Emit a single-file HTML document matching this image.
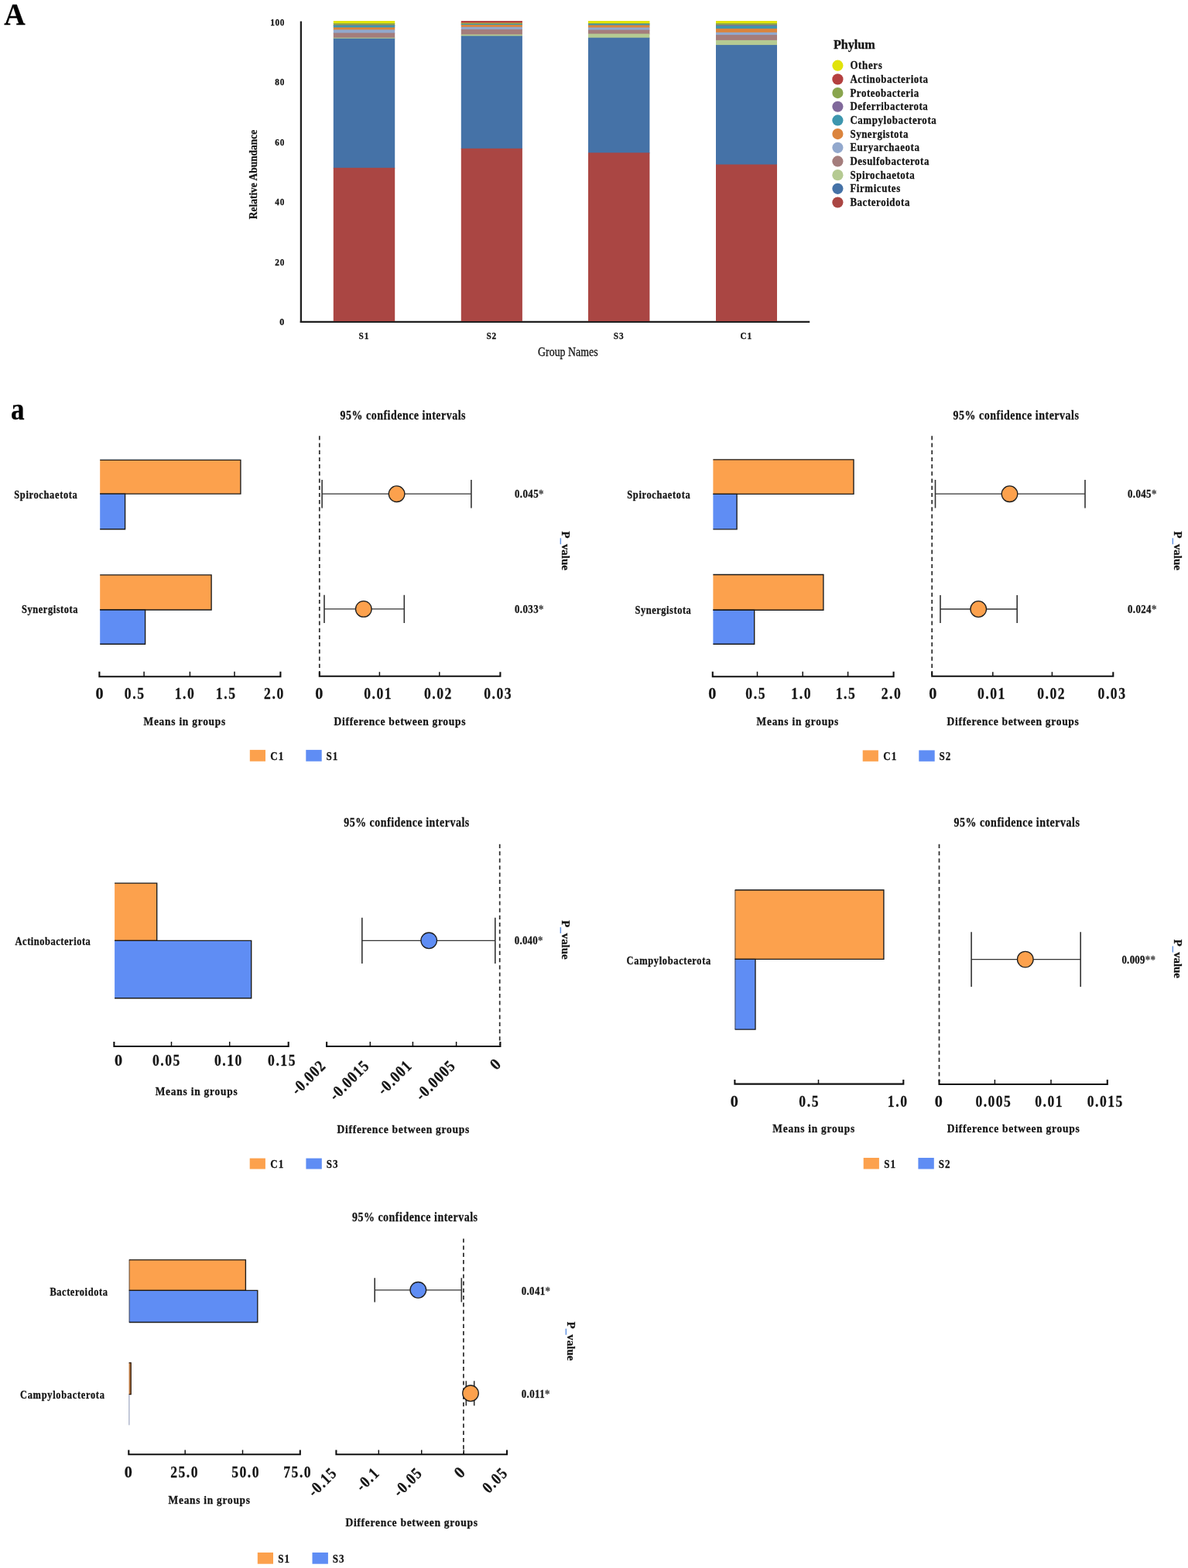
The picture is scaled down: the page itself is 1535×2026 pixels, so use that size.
<!DOCTYPE html>
<html><head><meta charset="utf-8"><title>Figure</title>
<style>
html,body{margin:0;padding:0;background:#fff;}
body{width:1535px;height:2026px;overflow:hidden;}
svg{display:block;font-family:"Liberation Serif","Times New Roman",serif;}
text{stroke:#141414;stroke-width:0.28px;}
</style></head>
<body>
<svg width="1535" height="2026" viewBox="0 0 1535 2026">
<rect width="1535" height="2026" fill="#fff"/>
<text transform="translate(5.20,31.70) scale(0.9731,1)" x="-0.00" y="0" font-size="39.00" font-weight="bold" fill="#000">A</text>
<line x1="388.90" y1="27.40" x2="388.90" y2="417.00" stroke="#1e1e1e" stroke-width="2.3"/>
<line x1="387.80" y1="415.90" x2="1046.20" y2="415.90" stroke="#1e1e1e" stroke-width="2.3"/>
<text transform="translate(361.25,420.00) scale(0.9300,1)" x="-0.00" y="0" font-size="13.00" font-weight="bold" fill="#141414">0</text>
<text transform="translate(355.21,342.54) scale(0.8700,1)" x="-0.00" y="0" font-size="13.00" font-weight="bold" fill="#141414" letter-spacing="0.897">20</text>
<text transform="translate(355.21,265.08) scale(0.8700,1)" x="-0.00" y="0" font-size="13.00" font-weight="bold" fill="#141414" letter-spacing="0.897">40</text>
<text transform="translate(355.21,187.62) scale(0.8700,1)" x="-0.00" y="0" font-size="13.00" font-weight="bold" fill="#141414" letter-spacing="0.897">60</text>
<text transform="translate(355.21,110.16) scale(0.8700,1)" x="-0.00" y="0" font-size="13.00" font-weight="bold" fill="#141414" letter-spacing="0.897">80</text>
<text transform="translate(349.17,32.70) scale(0.8700,1)" x="-0.00" y="0" font-size="13.00" font-weight="bold" fill="#141414" letter-spacing="0.672">100</text>
<text transform="translate(331.9,225.50) rotate(-90)" x="-57.75" y="0" font-size="15" font-weight="bold" fill="#141414" textLength="115.50" lengthAdjust="spacingAndGlyphs">Relative Abundance</text>
<rect x="430.80" y="27.00" width="79.40" height="4.00" fill="#E1E30A"/>
<rect x="430.80" y="30.10" width="79.40" height="3.20" fill="#89A54E"/>
<rect x="430.80" y="32.40" width="79.40" height="1.50" fill="#80699B"/>
<rect x="430.80" y="33.00" width="79.40" height="3.30" fill="#3D96AE"/>
<rect x="430.80" y="35.40" width="79.40" height="3.80" fill="#DB843D"/>
<rect x="430.80" y="38.30" width="79.40" height="5.10" fill="#92A8CD"/>
<rect x="430.80" y="42.50" width="79.40" height="7.00" fill="#A47D7C"/>
<rect x="430.80" y="48.60" width="79.40" height="2.00" fill="#B5CA92"/>
<rect x="430.80" y="49.70" width="79.40" height="168.00" fill="#4572A7"/>
<rect x="430.80" y="216.80" width="79.40" height="198.20" fill="#AA4643"/>
<rect x="595.80" y="27.00" width="79.10" height="3.10" fill="#B4403F"/>
<rect x="595.80" y="29.20" width="79.10" height="1.50" fill="#DB843D"/>
<rect x="595.80" y="29.80" width="79.10" height="2.10" fill="#89A54E"/>
<rect x="595.80" y="31.00" width="79.10" height="1.90" fill="#3D96AE"/>
<rect x="595.80" y="32.00" width="79.10" height="3.70" fill="#DB843D"/>
<rect x="595.80" y="34.80" width="79.10" height="4.00" fill="#92A8CD"/>
<rect x="595.80" y="37.90" width="79.10" height="7.50" fill="#A47D7C"/>
<rect x="595.80" y="44.50" width="79.10" height="2.80" fill="#B5CA92"/>
<rect x="595.80" y="46.40" width="79.10" height="146.30" fill="#4572A7"/>
<rect x="595.80" y="191.80" width="79.10" height="223.20" fill="#AA4643"/>
<rect x="760.00" y="27.00" width="79.40" height="3.90" fill="#E1E30A"/>
<rect x="760.00" y="30.00" width="79.40" height="1.70" fill="#89A54E"/>
<rect x="760.00" y="30.80" width="79.40" height="2.50" fill="#3D96AE"/>
<rect x="760.00" y="32.40" width="79.40" height="4.00" fill="#DB843D"/>
<rect x="760.00" y="35.50" width="79.40" height="4.00" fill="#92A8CD"/>
<rect x="760.00" y="38.60" width="79.40" height="5.90" fill="#A47D7C"/>
<rect x="760.00" y="43.60" width="79.40" height="6.00" fill="#B5CA92"/>
<rect x="760.00" y="48.70" width="79.40" height="149.50" fill="#4572A7"/>
<rect x="760.00" y="197.30" width="79.40" height="217.70" fill="#AA4643"/>
<rect x="925.00" y="27.00" width="79.00" height="4.00" fill="#E1E30A"/>
<rect x="925.00" y="30.10" width="79.00" height="3.10" fill="#89A54E"/>
<rect x="925.00" y="32.30" width="79.00" height="2.00" fill="#80699B"/>
<rect x="925.00" y="33.40" width="79.00" height="4.40" fill="#3D96AE"/>
<rect x="925.00" y="36.90" width="79.00" height="5.80" fill="#DB843D"/>
<rect x="925.00" y="41.80" width="79.00" height="4.20" fill="#92A8CD"/>
<rect x="925.00" y="45.10" width="79.00" height="7.70" fill="#A47D7C"/>
<rect x="925.00" y="51.90" width="79.00" height="7.10" fill="#B5CA92"/>
<rect x="925.00" y="58.10" width="79.00" height="155.30" fill="#4572A7"/>
<rect x="925.00" y="212.50" width="79.00" height="202.50" fill="#AA4643"/>
<text transform="translate(463.62,438.20) scale(0.8700,1)" x="-0.00" y="0" font-size="13.00" font-weight="bold" fill="#141414" letter-spacing="0.947">S1</text>
<text transform="translate(628.42,438.20) scale(0.8700,1)" x="-0.00" y="0" font-size="13.00" font-weight="bold" fill="#141414" letter-spacing="0.947">S2</text>
<text transform="translate(792.82,438.20) scale(0.8700,1)" x="-0.00" y="0" font-size="13.00" font-weight="bold" fill="#141414" letter-spacing="0.947">S3</text>
<text transform="translate(956.41,438.20) scale(0.8700,1)" x="-0.00" y="0" font-size="13.00" font-weight="bold" fill="#141414" letter-spacing="1.096">C1</text>
<text transform="translate(695.10,459.90) scale(0.8677,1)" x="-0.00" y="0" font-size="16.00" font-weight="normal" fill="#141414">Group Names</text>
<text transform="translate(1076.90,63.20) scale(1.0123,1)" x="-0.00" y="0" font-size="16.00" font-weight="bold" fill="#141414">Phylum</text>
<circle cx="1082.40" cy="84.70" r="7.10" fill="#E1E30A"/>
<text transform="translate(1098.40,89.30) scale(0.8700,1)" x="-0.00" y="0" font-size="14.80" font-weight="bold" fill="#141414" letter-spacing="0.801">Others</text>
<circle cx="1082.40" cy="102.38" r="7.10" fill="#B4403F"/>
<text transform="translate(1098.40,106.98) scale(0.8700,1)" x="-0.00" y="0" font-size="14.80" font-weight="bold" fill="#141414" letter-spacing="0.650">Actinobacteriota</text>
<circle cx="1082.40" cy="120.06" r="7.10" fill="#89A54E"/>
<text transform="translate(1098.40,124.66) scale(0.8700,1)" x="-0.00" y="0" font-size="14.80" font-weight="bold" fill="#141414" letter-spacing="0.661">Proteobacteria</text>
<circle cx="1082.40" cy="137.74" r="7.10" fill="#80699B"/>
<text transform="translate(1098.40,142.34) scale(0.8700,1)" x="-0.00" y="0" font-size="14.80" font-weight="bold" fill="#141414" letter-spacing="0.648">Deferribacterota</text>
<circle cx="1082.40" cy="155.42" r="7.10" fill="#3D96AE"/>
<text transform="translate(1098.40,160.02) scale(0.8700,1)" x="-0.00" y="0" font-size="14.80" font-weight="bold" fill="#141414" letter-spacing="0.719">Campylobacterota</text>
<circle cx="1082.40" cy="173.10" r="7.10" fill="#DB843D"/>
<text transform="translate(1098.40,177.70) scale(0.8700,1)" x="-0.00" y="0" font-size="14.80" font-weight="bold" fill="#141414" letter-spacing="0.660">Synergistota</text>
<circle cx="1082.40" cy="190.78" r="7.10" fill="#92A8CD"/>
<text transform="translate(1098.40,195.38) scale(0.8700,1)" x="-0.00" y="0" font-size="14.80" font-weight="bold" fill="#141414" letter-spacing="0.722">Euryarchaeota</text>
<circle cx="1082.40" cy="208.46" r="7.10" fill="#A47D7C"/>
<text transform="translate(1098.40,213.06) scale(0.8700,1)" x="-0.00" y="0" font-size="14.80" font-weight="bold" fill="#141414" letter-spacing="0.659">Desulfobacterota</text>
<circle cx="1082.40" cy="226.14" r="7.10" fill="#B5CA92"/>
<text transform="translate(1098.40,230.74) scale(0.8700,1)" x="-0.00" y="0" font-size="14.80" font-weight="bold" fill="#141414" letter-spacing="0.672">Spirochaetota</text>
<circle cx="1082.40" cy="243.82" r="7.10" fill="#4572A7"/>
<text transform="translate(1098.40,248.42) scale(0.8700,1)" x="-0.00" y="0" font-size="14.80" font-weight="bold" fill="#141414" letter-spacing="0.697">Firmicutes</text>
<circle cx="1082.40" cy="261.50" r="7.10" fill="#AA4643"/>
<text transform="translate(1098.40,266.10) scale(0.8700,1)" x="-0.00" y="0" font-size="14.80" font-weight="bold" fill="#141414" letter-spacing="0.678">Bacteroidota</text>
<text transform="translate(14.10,542.20) scale(0.9026,1)" x="-0.00" y="0" font-size="39.00" font-weight="bold" fill="#000">a</text>
<text transform="translate(18.30,643.70) scale(0.8700,1)" x="-0.00" y="0" font-size="14.30" font-weight="bold" fill="#141414" letter-spacing="0.754">Spirochaetota</text>
<text transform="translate(28.10,792.20) scale(0.8700,1)" x="-0.00" y="0" font-size="14.30" font-weight="bold" fill="#141414" letter-spacing="0.632">Synergistota</text>
<rect x="129.20" y="594.30" width="181.70" height="43.80" fill="#FCA14D"/>
<path d="M129.20,594.30 H310.90 V638.10 H129.20" fill="none" stroke="#1a1a1a" stroke-width="1.35"/>
<rect x="129.20" y="638.10" width="32.40" height="45.60" fill="#5F8DF4"/>
<path d="M129.20,638.10 H161.60 V683.70 H129.20" fill="none" stroke="#1a1a1a" stroke-width="1.35"/>
<rect x="129.20" y="742.90" width="143.90" height="45.10" fill="#FCA14D"/>
<path d="M129.20,742.90 H273.10 V788.00 H129.20" fill="none" stroke="#1a1a1a" stroke-width="1.35"/>
<rect x="129.20" y="788.00" width="58.40" height="44.20" fill="#5F8DF4"/>
<path d="M129.20,788.00 H187.60 V832.20 H129.20" fill="none" stroke="#1a1a1a" stroke-width="1.35"/>
<path d="M128.40,867.80 V874.20 H362.40 V867.80" fill="none" stroke="#111" stroke-width="2.1"/>
<line x1="186.10" y1="867.80" x2="186.10" y2="874.20" stroke="#111" stroke-width="1.5"/>
<line x1="245.40" y1="867.80" x2="245.40" y2="874.20" stroke="#111" stroke-width="1.5"/>
<line x1="303.00" y1="867.80" x2="303.00" y2="874.20" stroke="#111" stroke-width="1.5"/>
<text transform="translate(123.44,903.10) scale(0.9630,1)" x="-0.00" y="0" font-size="21.00" font-weight="bold" fill="#141414">0</text>
<text transform="translate(160.86,903.10) scale(0.8400,1)" x="-0.00" y="0" font-size="21.00" font-weight="bold" fill="#141414" letter-spacing="1.922">0.5</text>
<text transform="translate(225.66,903.10) scale(0.8400,1)" x="-0.00" y="0" font-size="21.00" font-weight="bold" fill="#141414" letter-spacing="1.922">1.0</text>
<text transform="translate(278.86,903.10) scale(0.8400,1)" x="-0.00" y="0" font-size="21.00" font-weight="bold" fill="#141414" letter-spacing="1.922">1.5</text>
<text transform="translate(340.96,903.10) scale(0.8400,1)" x="-0.00" y="0" font-size="21.00" font-weight="bold" fill="#141414" letter-spacing="1.922">2.0</text>
<text transform="translate(185.50,936.60) scale(0.8700,1)" x="-0.00" y="0" font-size="15.40" font-weight="bold" fill="#141414" letter-spacing="0.883">Means in groups</text>
<text transform="translate(439.60,541.60) scale(0.8700,1)" x="-0.00" y="0" font-size="16.00" font-weight="bold" fill="#141414" letter-spacing="0.600">95% confidence intervals</text>
<line x1="412.80" y1="563.30" x2="412.80" y2="873.00" stroke="#2a2a2a" stroke-width="1.7" stroke-dasharray="5.2 4"/>
<line x1="416.10" y1="638.20" x2="608.90" y2="638.20" stroke="#333" stroke-width="1.3"/>
<line x1="416.10" y1="620.00" x2="416.10" y2="656.40" stroke="#333" stroke-width="1.6"/>
<line x1="608.90" y1="620.00" x2="608.90" y2="656.40" stroke="#333" stroke-width="1.6"/>
<circle cx="512.60" cy="638.20" r="10.30" fill="#FCA14D" stroke="#1e1e1e" stroke-width="1.3"/>
<line x1="419.00" y1="786.90" x2="522.30" y2="786.90" stroke="#333" stroke-width="1.3"/>
<line x1="419.00" y1="768.80" x2="419.00" y2="805.00" stroke="#333" stroke-width="1.6"/>
<line x1="522.30" y1="768.80" x2="522.30" y2="805.00" stroke="#333" stroke-width="1.6"/>
<circle cx="469.80" cy="786.90" r="10.30" fill="#FCA14D" stroke="#1e1e1e" stroke-width="1.3"/>
<path d="M412.80,868.20 V873.80 H646.40 V868.20" fill="none" stroke="#111" stroke-width="2.1"/>
<line x1="490.40" y1="868.20" x2="490.40" y2="873.80" stroke="#111" stroke-width="1.5"/>
<line x1="567.80" y1="868.20" x2="567.80" y2="873.80" stroke="#111" stroke-width="1.5"/>
<text transform="translate(407.24,902.70) scale(0.9630,1)" x="-0.00" y="0" font-size="21.00" font-weight="bold" fill="#141414">0</text>
<text transform="translate(470.30,902.70) scale(0.8400,1)" x="-0.00" y="0" font-size="21.00" font-weight="bold" fill="#141414" letter-spacing="1.794">0.01</text>
<text transform="translate(547.90,902.70) scale(0.8400,1)" x="-0.00" y="0" font-size="21.00" font-weight="bold" fill="#141414" letter-spacing="1.794">0.02</text>
<text transform="translate(625.30,902.70) scale(0.8400,1)" x="-0.00" y="0" font-size="21.00" font-weight="bold" fill="#141414" letter-spacing="1.794">0.03</text>
<text transform="translate(431.60,936.80) scale(0.8700,1)" x="-0.00" y="0" font-size="15.60" font-weight="bold" fill="#141414" letter-spacing="0.764">Difference between groups</text>
<text transform="translate(665.00,643.40) scale(0.8700,1)" x="-0.00" y="0" font-size="14.80" font-weight="bold" fill="#141414" letter-spacing="0.481">0.045<tspan fill="#4a4a4a" stroke="#4a4a4a">*</tspan></text>
<text transform="translate(665.00,791.90) scale(0.8700,1)" x="-0.00" y="0" font-size="14.80" font-weight="bold" fill="#141414" letter-spacing="0.481">0.033<tspan fill="#4a4a4a" stroke="#4a4a4a">*</tspan></text>
<text transform="translate(731.00,711.60) rotate(90)" x="-25.16" y="4.95" font-size="15" font-weight="bold" fill="#141414" textLength="50.32" lengthAdjust="spacingAndGlyphs">P<tspan fill="#5b8fe0" stroke="#5b8fe0">_</tspan>value</text>
<rect x="322.80" y="968.90" width="20.20" height="14.80" fill="#FCA14D"/>
<text transform="translate(349.30,982.00) scale(0.8700,1)" x="-0.00" y="0" font-size="15.00" font-weight="bold" fill="#141414" letter-spacing="1.264">C1</text>
<rect x="395.30" y="968.90" width="20.40" height="14.80" fill="#5F8DF4"/>
<text transform="translate(421.60,982.00) scale(0.8700,1)" x="-0.00" y="0" font-size="15.00" font-weight="bold" fill="#141414" letter-spacing="1.092">S1</text>
<text transform="translate(810.30,643.90) scale(0.8700,1)" x="-0.00" y="0" font-size="14.30" font-weight="bold" fill="#141414" letter-spacing="0.735">Spirochaetota</text>
<text transform="translate(820.50,792.80) scale(0.8700,1)" x="-0.00" y="0" font-size="14.30" font-weight="bold" fill="#141414" letter-spacing="0.632">Synergistota</text>
<rect x="921.40" y="593.80" width="181.60" height="44.50" fill="#FCA14D"/>
<path d="M921.40,593.80 H1103.00 V638.30 H921.40" fill="none" stroke="#1a1a1a" stroke-width="1.35"/>
<rect x="921.40" y="638.30" width="30.70" height="45.50" fill="#5F8DF4"/>
<path d="M921.40,638.30 H952.10 V683.80 H921.40" fill="none" stroke="#1a1a1a" stroke-width="1.35"/>
<rect x="921.40" y="742.50" width="142.50" height="45.70" fill="#FCA14D"/>
<path d="M921.40,742.50 H1063.90 V788.20 H921.40" fill="none" stroke="#1a1a1a" stroke-width="1.35"/>
<rect x="921.40" y="788.20" width="53.30" height="44.00" fill="#5F8DF4"/>
<path d="M921.40,788.20 H974.70 V832.20 H921.40" fill="none" stroke="#1a1a1a" stroke-width="1.35"/>
<path d="M920.80,867.80 V874.20 H1154.60 V867.80" fill="none" stroke="#111" stroke-width="2.1"/>
<line x1="978.50" y1="867.80" x2="978.50" y2="874.20" stroke="#111" stroke-width="1.5"/>
<line x1="1037.20" y1="867.80" x2="1037.20" y2="874.20" stroke="#111" stroke-width="1.5"/>
<line x1="1095.60" y1="867.80" x2="1095.60" y2="874.20" stroke="#111" stroke-width="1.5"/>
<text transform="translate(915.24,903.30) scale(0.9630,1)" x="-0.00" y="0" font-size="21.00" font-weight="bold" fill="#141414">0</text>
<text transform="translate(963.36,903.30) scale(0.8400,1)" x="-0.00" y="0" font-size="21.00" font-weight="bold" fill="#141414" letter-spacing="1.922">0.5</text>
<text transform="translate(1022.26,903.30) scale(0.8400,1)" x="-0.00" y="0" font-size="21.00" font-weight="bold" fill="#141414" letter-spacing="1.922">1.0</text>
<text transform="translate(1079.66,903.30) scale(0.8400,1)" x="-0.00" y="0" font-size="21.00" font-weight="bold" fill="#141414" letter-spacing="1.922">1.5</text>
<text transform="translate(1138.66,903.30) scale(0.8400,1)" x="-0.00" y="0" font-size="21.00" font-weight="bold" fill="#141414" letter-spacing="1.922">2.0</text>
<text transform="translate(977.50,936.80) scale(0.8700,1)" x="-0.00" y="0" font-size="15.40" font-weight="bold" fill="#141414" letter-spacing="0.891">Means in groups</text>
<text transform="translate(1231.50,541.60) scale(0.8700,1)" x="-0.00" y="0" font-size="16.00" font-weight="bold" fill="#141414" letter-spacing="0.625">95% confidence intervals</text>
<line x1="1204.20" y1="563.30" x2="1204.20" y2="873.00" stroke="#2a2a2a" stroke-width="1.7" stroke-dasharray="5.2 4"/>
<line x1="1208.50" y1="638.20" x2="1402.00" y2="638.20" stroke="#333" stroke-width="1.3"/>
<line x1="1208.50" y1="620.00" x2="1208.50" y2="656.40" stroke="#333" stroke-width="1.6"/>
<line x1="1402.00" y1="620.00" x2="1402.00" y2="656.40" stroke="#333" stroke-width="1.6"/>
<circle cx="1304.50" cy="638.20" r="10.30" fill="#FCA14D" stroke="#1e1e1e" stroke-width="1.3"/>
<line x1="1215.00" y1="787.00" x2="1314.20" y2="787.00" stroke="#333" stroke-width="1.3"/>
<line x1="1215.00" y1="768.90" x2="1215.00" y2="805.10" stroke="#333" stroke-width="1.6"/>
<line x1="1314.20" y1="768.90" x2="1314.20" y2="805.10" stroke="#333" stroke-width="1.6"/>
<circle cx="1264.20" cy="787.00" r="10.30" fill="#FCA14D" stroke="#1e1e1e" stroke-width="1.3"/>
<path d="M1204.20,868.20 V873.80 H1438.30 V868.20" fill="none" stroke="#111" stroke-width="2.1"/>
<line x1="1282.80" y1="868.20" x2="1282.80" y2="873.80" stroke="#111" stroke-width="1.5"/>
<line x1="1359.40" y1="868.20" x2="1359.40" y2="873.80" stroke="#111" stroke-width="1.5"/>
<text transform="translate(1200.34,902.70) scale(0.9630,1)" x="-0.00" y="0" font-size="21.00" font-weight="bold" fill="#141414">0</text>
<text transform="translate(1262.90,902.70) scale(0.8400,1)" x="-0.00" y="0" font-size="21.00" font-weight="bold" fill="#141414" letter-spacing="1.794">0.01</text>
<text transform="translate(1340.30,902.70) scale(0.8400,1)" x="-0.00" y="0" font-size="21.00" font-weight="bold" fill="#141414" letter-spacing="1.794">0.02</text>
<text transform="translate(1418.60,902.70) scale(0.8400,1)" x="-0.00" y="0" font-size="21.00" font-weight="bold" fill="#141414" letter-spacing="1.794">0.03</text>
<text transform="translate(1223.50,936.80) scale(0.8700,1)" x="-0.00" y="0" font-size="15.60" font-weight="bold" fill="#141414" letter-spacing="0.788">Difference between groups</text>
<text transform="translate(1457.00,643.40) scale(0.8700,1)" x="-0.00" y="0" font-size="14.80" font-weight="bold" fill="#141414" letter-spacing="0.458">0.045<tspan fill="#4a4a4a" stroke="#4a4a4a">*</tspan></text>
<text transform="translate(1457.00,791.90) scale(0.8700,1)" x="-0.00" y="0" font-size="14.80" font-weight="bold" fill="#141414" letter-spacing="0.458">0.024<tspan fill="#4a4a4a" stroke="#4a4a4a">*</tspan></text>
<text transform="translate(1522.00,711.60) rotate(90)" x="-25.16" y="4.95" font-size="15" font-weight="bold" fill="#141414" textLength="50.32" lengthAdjust="spacingAndGlyphs">P<tspan fill="#5b8fe0" stroke="#5b8fe0">_</tspan>value</text>
<rect x="1114.70" y="969.40" width="20.20" height="14.40" fill="#FCA14D"/>
<text transform="translate(1141.20,982.20) scale(0.8700,1)" x="-0.00" y="0" font-size="15.00" font-weight="bold" fill="#141414" letter-spacing="1.264">C1</text>
<rect x="1187.30" y="969.40" width="20.40" height="14.40" fill="#5F8DF4"/>
<text transform="translate(1213.60,982.20) scale(0.8700,1)" x="-0.00" y="0" font-size="15.00" font-weight="bold" fill="#141414" letter-spacing="1.092">S2</text>
<text transform="translate(19.60,1220.90) scale(0.8700,1)" x="-0.00" y="0" font-size="14.30" font-weight="bold" fill="#141414" letter-spacing="0.625">Actinobacteriota</text>
<rect x="148.10" y="1141.10" width="54.60" height="74.20" fill="#FCA14D"/>
<path d="M148.10,1141.10 H202.70 V1215.30 H148.10" fill="none" stroke="#1a1a1a" stroke-width="1.35"/>
<rect x="148.10" y="1215.30" width="176.60" height="74.40" fill="#5F8DF4"/>
<path d="M148.10,1215.30 H324.70 V1289.70 H148.10" fill="none" stroke="#1a1a1a" stroke-width="1.35"/>
<path d="M147.40,1346.00 V1352.00 H372.70 V1346.00" fill="none" stroke="#111" stroke-width="2.1"/>
<line x1="221.50" y1="1346.00" x2="221.50" y2="1352.00" stroke="#111" stroke-width="1.5"/>
<line x1="296.70" y1="1346.00" x2="296.70" y2="1352.00" stroke="#111" stroke-width="1.5"/>
<text transform="translate(147.94,1377.40) scale(0.9630,1)" x="-0.00" y="0" font-size="21.00" font-weight="bold" fill="#141414">0</text>
<text transform="translate(197.00,1377.40) scale(0.8400,1)" x="-0.00" y="0" font-size="21.00" font-weight="bold" fill="#141414" letter-spacing="1.794">0.05</text>
<text transform="translate(277.00,1377.40) scale(0.8400,1)" x="-0.00" y="0" font-size="21.00" font-weight="bold" fill="#141414" letter-spacing="1.794">0.10</text>
<text transform="translate(346.10,1377.40) scale(0.8400,1)" x="-0.00" y="0" font-size="21.00" font-weight="bold" fill="#141414" letter-spacing="1.794">0.15</text>
<text transform="translate(200.70,1414.70) scale(0.8700,1)" x="-0.00" y="0" font-size="15.40" font-weight="bold" fill="#141414" letter-spacing="0.899">Means in groups</text>
<text transform="translate(444.20,1068.00) scale(0.8700,1)" x="-0.00" y="0" font-size="16.00" font-weight="bold" fill="#141414" letter-spacing="0.605">95% confidence intervals</text>
<line x1="645.70" y1="1090.80" x2="645.70" y2="1350.00" stroke="#2a2a2a" stroke-width="1.7" stroke-dasharray="5.2 4"/>
<line x1="467.80" y1="1215.30" x2="639.80" y2="1215.30" stroke="#333" stroke-width="1.3"/>
<line x1="467.80" y1="1185.70" x2="467.80" y2="1244.90" stroke="#333" stroke-width="1.6"/>
<line x1="639.80" y1="1185.70" x2="639.80" y2="1244.90" stroke="#333" stroke-width="1.6"/>
<circle cx="554.20" cy="1215.30" r="10.30" fill="#5F8DF4" stroke="#1e1e1e" stroke-width="1.3"/>
<path d="M422.10,1346.00 V1352.00 H646.40 V1346.00" fill="none" stroke="#111" stroke-width="2.1"/>
<line x1="478.30" y1="1346.00" x2="478.30" y2="1352.00" stroke="#111" stroke-width="1.5"/>
<line x1="533.40" y1="1346.00" x2="533.40" y2="1352.00" stroke="#111" stroke-width="1.5"/>
<line x1="589.60" y1="1346.00" x2="589.60" y2="1352.00" stroke="#111" stroke-width="1.5"/>
<text transform="translate(421.50,1378.90) rotate(-45) translate(-52.24,0) scale(0.8400,1)" x="-0.00" y="0" font-size="21.00" font-weight="bold" fill="#141414" letter-spacing="1.589">-0.002</text>
<text transform="translate(477.70,1378.90) rotate(-45) translate(-62.35,0) scale(0.8400,1)" x="-0.00" y="0" font-size="21.00" font-weight="bold" fill="#141414" letter-spacing="1.580">-0.0015</text>
<text transform="translate(532.80,1378.90) rotate(-45) translate(-52.24,0) scale(0.8400,1)" x="-0.00" y="0" font-size="21.00" font-weight="bold" fill="#141414" letter-spacing="1.589">-0.001</text>
<text transform="translate(589.00,1378.90) rotate(-45) translate(-62.35,0) scale(0.8400,1)" x="-0.00" y="0" font-size="21.00" font-weight="bold" fill="#141414" letter-spacing="1.580">-0.0005</text>
<text transform="translate(648.40,1376.30) rotate(-45) translate(-10.11,0) scale(0.9630,1)" x="-0.00" y="0" font-size="21.00" font-weight="bold" fill="#141414">0</text>
<text transform="translate(435.50,1463.80) scale(0.8700,1)" x="-0.00" y="0" font-size="15.60" font-weight="bold" fill="#141414" letter-spacing="0.803">Difference between groups</text>
<text transform="translate(664.70,1220.40) scale(0.8700,1)" x="-0.00" y="0" font-size="14.80" font-weight="bold" fill="#141414" letter-spacing="0.320">0.040<tspan fill="#4a4a4a" stroke="#4a4a4a">*</tspan></text>
<text transform="translate(730.80,1214.40) rotate(90)" x="-25.16" y="4.95" font-size="15" font-weight="bold" fill="#141414" textLength="50.32" lengthAdjust="spacingAndGlyphs">P<tspan fill="#5b8fe0" stroke="#5b8fe0">_</tspan>value</text>
<rect x="322.70" y="1496.60" width="20.20" height="13.90" fill="#FCA14D"/>
<text transform="translate(349.20,1509.20) scale(0.8700,1)" x="-0.00" y="0" font-size="15.00" font-weight="bold" fill="#141414" letter-spacing="1.264">C1</text>
<rect x="395.40" y="1496.60" width="20.40" height="13.90" fill="#5F8DF4"/>
<text transform="translate(421.70,1509.20) scale(0.8700,1)" x="-0.00" y="0" font-size="15.00" font-weight="bold" fill="#141414" letter-spacing="1.092">S3</text>
<text transform="translate(809.60,1246.30) scale(0.8700,1)" x="-0.00" y="0" font-size="14.30" font-weight="bold" fill="#141414" letter-spacing="0.774">Campylobacterota</text>
<rect x="949.60" y="1150.00" width="192.30" height="89.40" fill="#FCA14D"/>
<line x1="949.90" y1="1150.00" x2="949.90" y2="1239.40" stroke="#3a3a3a" stroke-width="0.8"/>
<path d="M949.60,1150.00 H1141.90 V1239.40 H949.60" fill="none" stroke="#1a1a1a" stroke-width="1.35"/>
<rect x="949.60" y="1239.40" width="26.40" height="90.70" fill="#5F8DF4"/>
<line x1="949.90" y1="1239.40" x2="949.90" y2="1330.10" stroke="#3a3a3a" stroke-width="0.8"/>
<path d="M949.60,1239.40 H976.00 V1330.10 H949.60" fill="none" stroke="#1a1a1a" stroke-width="1.35"/>
<path d="M949.40,1395.00 V1400.60 H1167.30 V1395.00" fill="none" stroke="#111" stroke-width="2.1"/>
<line x1="1057.50" y1="1395.00" x2="1057.50" y2="1400.60" stroke="#111" stroke-width="1.5"/>
<text transform="translate(943.74,1430.30) scale(0.9630,1)" x="-0.00" y="0" font-size="21.00" font-weight="bold" fill="#141414">0</text>
<text transform="translate(1032.36,1430.30) scale(0.8400,1)" x="-0.00" y="0" font-size="21.00" font-weight="bold" fill="#141414" letter-spacing="1.922">0.5</text>
<text transform="translate(1146.76,1430.30) scale(0.8400,1)" x="-0.00" y="0" font-size="21.00" font-weight="bold" fill="#141414" letter-spacing="1.922">1.0</text>
<text transform="translate(998.30,1463.00) scale(0.8700,1)" x="-0.00" y="0" font-size="15.40" font-weight="bold" fill="#141414" letter-spacing="0.899">Means in groups</text>
<text transform="translate(1232.40,1067.80) scale(0.8700,1)" x="-0.00" y="0" font-size="16.00" font-weight="bold" fill="#141414" letter-spacing="0.630">95% confidence intervals</text>
<line x1="1213.50" y1="1090.80" x2="1213.50" y2="1398.00" stroke="#2a2a2a" stroke-width="1.7" stroke-dasharray="5.2 4"/>
<line x1="1255.10" y1="1239.60" x2="1396.20" y2="1239.60" stroke="#333" stroke-width="1.3"/>
<line x1="1255.10" y1="1204.30" x2="1255.10" y2="1274.90" stroke="#333" stroke-width="1.6"/>
<line x1="1396.20" y1="1204.30" x2="1396.20" y2="1274.90" stroke="#333" stroke-width="1.6"/>
<circle cx="1324.80" cy="1239.60" r="10.30" fill="#FCA14D" stroke="#1e1e1e" stroke-width="1.3"/>
<path d="M1213.50,1395.00 V1401.00 H1430.80 V1395.00" fill="none" stroke="#111" stroke-width="2.1"/>
<line x1="1285.40" y1="1395.00" x2="1285.40" y2="1401.00" stroke="#111" stroke-width="1.5"/>
<line x1="1358.00" y1="1395.00" x2="1358.00" y2="1401.00" stroke="#111" stroke-width="1.5"/>
<text transform="translate(1207.74,1430.30) scale(0.9630,1)" x="-0.00" y="0" font-size="21.00" font-weight="bold" fill="#141414">0</text>
<text transform="translate(1260.45,1430.30) scale(0.8400,1)" x="-0.00" y="0" font-size="21.00" font-weight="bold" fill="#141414" letter-spacing="1.730">0.005</text>
<text transform="translate(1337.30,1430.30) scale(0.8400,1)" x="-0.00" y="0" font-size="21.00" font-weight="bold" fill="#141414" letter-spacing="1.794">0.01</text>
<text transform="translate(1404.85,1430.30) scale(0.8400,1)" x="-0.00" y="0" font-size="21.00" font-weight="bold" fill="#141414" letter-spacing="1.730">0.015</text>
<text transform="translate(1223.70,1463.30) scale(0.8700,1)" x="-0.00" y="0" font-size="15.60" font-weight="bold" fill="#141414" letter-spacing="0.827">Difference between groups</text>
<text transform="translate(1449.40,1245.00) scale(0.8700,1)" x="-0.00" y="0" font-size="14.80" font-weight="bold" fill="#141414" letter-spacing="0.336">0.009<tspan fill="#4a4a4a" stroke="#4a4a4a">**</tspan></text>
<text transform="translate(1522.00,1238.80) rotate(90)" x="-25.16" y="4.95" font-size="15" font-weight="bold" fill="#141414" textLength="50.32" lengthAdjust="spacingAndGlyphs">P<tspan fill="#5b8fe0" stroke="#5b8fe0">_</tspan>value</text>
<rect x="1115.70" y="1496.00" width="20.20" height="14.50" fill="#FCA14D"/>
<text transform="translate(1142.20,1509.20) scale(0.8700,1)" x="-0.00" y="0" font-size="15.00" font-weight="bold" fill="#141414" letter-spacing="1.092">S1</text>
<rect x="1186.40" y="1496.00" width="20.40" height="14.50" fill="#5F8DF4"/>
<text transform="translate(1212.70,1509.20) scale(0.8700,1)" x="-0.00" y="0" font-size="15.00" font-weight="bold" fill="#141414" letter-spacing="1.092">S2</text>
<text transform="translate(64.40,1673.90) scale(0.8700,1)" x="-0.00" y="0" font-size="14.30" font-weight="bold" fill="#141414" letter-spacing="0.661">Bacteroidota</text>
<text transform="translate(26.00,1806.80) scale(0.8700,1)" x="-0.00" y="0" font-size="14.30" font-weight="bold" fill="#141414" letter-spacing="0.797">Campylobacterota</text>
<rect x="166.80" y="1627.80" width="150.60" height="39.60" fill="#FCA14D"/>
<line x1="167.10" y1="1627.80" x2="167.10" y2="1667.40" stroke="#3a3a3a" stroke-width="0.8"/>
<path d="M166.80,1627.80 H317.40 V1667.40 H166.80" fill="none" stroke="#1a1a1a" stroke-width="1.35"/>
<rect x="166.80" y="1667.40" width="166.00" height="41.10" fill="#5F8DF4"/>
<line x1="167.10" y1="1667.40" x2="167.10" y2="1708.50" stroke="#3a3a3a" stroke-width="0.8"/>
<path d="M166.80,1667.40 H332.80 V1708.50 H166.80" fill="none" stroke="#1a1a1a" stroke-width="1.35"/>
<rect x="166.60" y="1760.70" width="2.80" height="41.10" fill="#B8743A"/>
<path d="M166.6,1760.9 H169.2 V1801.6 H166.6" fill="none" stroke="#2a1a10" stroke-width="1.2"/>
<line x1="166.90" y1="1802.20" x2="166.90" y2="1841.40" stroke="#7d88ab" stroke-width="0.9"/>
<path d="M166.30,1873.50 V1879.20 H387.80 V1873.50" fill="none" stroke="#111" stroke-width="2.1"/>
<line x1="239.20" y1="1873.50" x2="239.20" y2="1879.20" stroke="#111" stroke-width="1.5"/>
<line x1="313.50" y1="1873.50" x2="313.50" y2="1879.20" stroke="#111" stroke-width="1.5"/>
<text transform="translate(160.64,1909.20) scale(0.9630,1)" x="-0.00" y="0" font-size="21.00" font-weight="bold" fill="#141414">0</text>
<text transform="translate(220.20,1909.20) scale(0.8400,1)" x="-0.00" y="0" font-size="21.00" font-weight="bold" fill="#141414" letter-spacing="1.794">25.0</text>
<text transform="translate(299.20,1909.20) scale(0.8400,1)" x="-0.00" y="0" font-size="21.00" font-weight="bold" fill="#141414" letter-spacing="1.794">50.0</text>
<text transform="translate(366.30,1909.20) scale(0.8400,1)" x="-0.00" y="0" font-size="21.00" font-weight="bold" fill="#141414" letter-spacing="1.794">75.0</text>
<text transform="translate(217.60,1942.50) scale(0.8700,1)" x="-0.00" y="0" font-size="15.40" font-weight="bold" fill="#141414" letter-spacing="0.858">Means in groups</text>
<text transform="translate(455.00,1578.20) scale(0.8700,1)" x="-0.00" y="0" font-size="16.00" font-weight="bold" fill="#141414" letter-spacing="0.605">95% confidence intervals</text>
<line x1="598.90" y1="1600.40" x2="598.90" y2="1877.90" stroke="#2a2a2a" stroke-width="1.7" stroke-dasharray="5.2 4"/>
<line x1="484.20" y1="1666.80" x2="596.30" y2="1666.80" stroke="#333" stroke-width="1.3"/>
<line x1="484.20" y1="1651.20" x2="484.20" y2="1682.40" stroke="#333" stroke-width="1.6"/>
<line x1="596.30" y1="1651.20" x2="596.30" y2="1682.40" stroke="#333" stroke-width="1.6"/>
<circle cx="540.30" cy="1666.80" r="10.30" fill="#5F8DF4" stroke="#1e1e1e" stroke-width="1.3"/>
<line x1="602.30" y1="1800.30" x2="612.70" y2="1800.30" stroke="#333" stroke-width="1.3"/>
<line x1="602.30" y1="1784.30" x2="602.30" y2="1816.30" stroke="#333" stroke-width="1.6"/>
<line x1="612.70" y1="1784.30" x2="612.70" y2="1816.30" stroke="#333" stroke-width="1.6"/>
<circle cx="608.00" cy="1800.30" r="10.30" fill="#FCA14D" stroke="#1e1e1e" stroke-width="1.3"/>
<path d="M434.40,1873.50 V1879.20 H655.00 V1873.50" fill="none" stroke="#111" stroke-width="2.1"/>
<line x1="489.30" y1="1873.50" x2="489.30" y2="1879.20" stroke="#111" stroke-width="1.5"/>
<line x1="544.70" y1="1873.50" x2="544.70" y2="1879.20" stroke="#111" stroke-width="1.5"/>
<line x1="599.20" y1="1873.50" x2="599.20" y2="1879.20" stroke="#111" stroke-width="1.5"/>
<text transform="translate(435.80,1905.20) rotate(-45) translate(-42.12,0) scale(0.8400,1)" x="-0.00" y="0" font-size="21.00" font-weight="bold" fill="#141414" letter-spacing="1.601">-0.15</text>
<text transform="translate(490.70,1905.20) rotate(-45) translate(-32.01,0) scale(0.8400,1)" x="-0.00" y="0" font-size="21.00" font-weight="bold" fill="#141414" letter-spacing="1.623">-0.1</text>
<text transform="translate(546.10,1905.20) rotate(-45) translate(-42.12,0) scale(0.8400,1)" x="-0.00" y="0" font-size="21.00" font-weight="bold" fill="#141414" letter-spacing="1.601">-0.05</text>
<text transform="translate(602.20,1903.80) rotate(-45) translate(-10.11,0) scale(0.9630,1)" x="-0.00" y="0" font-size="21.00" font-weight="bold" fill="#141414">0</text>
<text transform="translate(656.40,1905.20) rotate(-45) translate(-35.39,0) scale(0.8400,1)" x="-0.00" y="0" font-size="21.00" font-weight="bold" fill="#141414" letter-spacing="1.794">0.05</text>
<text transform="translate(446.40,1971.70) scale(0.8700,1)" x="-0.00" y="0" font-size="15.60" font-weight="bold" fill="#141414" letter-spacing="0.798">Difference between groups</text>
<text transform="translate(673.70,1672.60) scale(0.8700,1)" x="-0.00" y="0" font-size="14.80" font-weight="bold" fill="#141414" letter-spacing="0.435">0.041<tspan fill="#4a4a4a" stroke="#4a4a4a">*</tspan></text>
<text transform="translate(673.70,1805.50) scale(0.8700,1)" x="-0.00" y="0" font-size="14.80" font-weight="bold" fill="#141414" letter-spacing="0.483">0.011<tspan fill="#4a4a4a" stroke="#4a4a4a">*</tspan></text>
<text transform="translate(738.30,1733.00) rotate(90)" x="-25.16" y="4.95" font-size="15" font-weight="bold" fill="#141414" textLength="50.32" lengthAdjust="spacingAndGlyphs">P<tspan fill="#5b8fe0" stroke="#5b8fe0">_</tspan>value</text>
<rect x="332.80" y="2006.00" width="20.20" height="14.70" fill="#FCA14D"/>
<text transform="translate(359.30,2019.30) scale(0.8700,1)" x="-0.00" y="0" font-size="15.00" font-weight="bold" fill="#141414" letter-spacing="1.092">S1</text>
<rect x="403.50" y="2006.00" width="20.40" height="14.70" fill="#5F8DF4"/>
<text transform="translate(429.80,2019.30) scale(0.8700,1)" x="-0.00" y="0" font-size="15.00" font-weight="bold" fill="#141414" letter-spacing="1.092">S3</text>
</svg>
</body></html>
